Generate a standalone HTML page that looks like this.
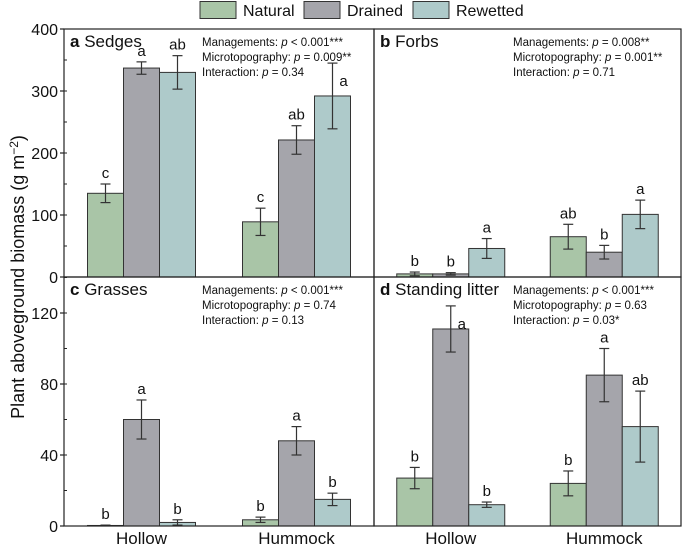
<!DOCTYPE html>
<html><head><meta charset="utf-8"><style>
html,body{margin:0;padding:0;background:#fff;}
svg{display:block;font-family:"Liberation Sans",Arial,sans-serif;}
</style></head><body>
<svg id="chart" width="685" height="547" viewBox="0 0 685 547"></svg>
<script>
const groups = ["Hollow","Hummock"];
const treatments = ["Natural","Drained","Rewetted"];
const colors = ["#a9c5a7","#a5a5ab","#aecaca"];
const panelIds = ["a","b","c","d"];
const panelNames = ["Sedges","Forbs","Grasses","Standing litter"];
const sedgesMean = [[135,337,330],[89,221,292]];
const sedgesErr = [[15,10,27],[22,23,53]];
const sedgesLetters = [["c","a","ab"],["c","ab","a"]];
const forbsMean = [[5,5,46],[65,40,101]];
const forbsErr = [[3,2,16],[20,11,23]];
const forbsLetters = [["b","b","a"],["ab","b","a"]];
const grassesMean = [[0.3,60,2],[3.5,48,15]];
const grassesErr = [[0.2,11,1.5],[1.5,8,3.5]];
const grassesLetters = [["b","a","b"],["b","a","b"]];
const litterMean = [[27,111,12],[24,85,56]];
const litterErr = [[6,13,1.5],[7,15,20]];
const litterLetters = [["b","a","b"],["b","a","ab"]];
const topTicks = [0,100,200,300,400];
const bottomTicks = [0,40,80,120];
const stats = [
 ["Managements: |p| < 0.001***","Microtopography: |p| = 0.009**","Interaction: |p| = 0.34"],
 ["Managements: |p| = 0.008**","Microtopography: |p| = 0.001**","Interaction: |p| = 0.71"],
 ["Managements: |p| < 0.001***","Microtopography: |p| = 0.74","Interaction: |p| = 0.13"],
 ["Managements: |p| < 0.001***","Microtopography: |p| = 0.63","Interaction: |p| = 0.03*"]
];
const means=[sedgesMean,forbsMean,grassesMean,litterMean];
const errs=[sedgesErr,forbsErr,grassesErr,litterErr];
const letters=[sedgesLetters,forbsLetters,grassesLetters,litterLetters];
// letters placed beside error cap instead of above (panel,group,treatment)
const sideLetters = ["0-1-2","3-0-1"];

const NS="http://www.w3.org/2000/svg";
const svg=document.getElementById('chart');
function mk(tag,attrs,parent){const e=document.createElementNS(NS,tag);for(const k in attrs)e.setAttribute(k,attrs[k]);(parent||svg).appendChild(e);return e;}

const L=64,M=374,R=681,T=29,MID=277,B=526;
const panels=[
 {x0:L,x1:M,y0:T,y1:MID,max:400},
 {x0:M,x1:R,y0:T,y1:MID,max:400},
 {x0:L,x1:M,y0:MID,y1:B,max:(B-MID)/(71/40)},
 {x0:M,x1:R,y0:MID,y1:B,max:(B-MID)/(71/40)}
];
const barW=36;

treatments.forEach((t,i)=>{
 const lx=[200,304,413][i];
 const g=mk('g',{});
 
 
 mk('rect',{x:lx,y:1.5,width:36,height:17,fill:colors[i],stroke:'#333','stroke-width':1},g);
 const tx=mk('text',{x:lx+43,y:16,'font-size':16,fill:'#111'},g);tx.textContent=t;
});

panels.forEach((p,pi)=>{
 const g=mk('g',{});
 
 
 const ys=v=>p.y1-v/p.max*(p.y1-p.y0);
 const w=p.x1-p.x0;
 const cx=gi=>p.x0+w*(gi===0?0.25:0.75);
 groups.forEach((gn,gi)=>{
  treatments.forEach((t,ti)=>{
   const v=means[pi][gi][ti],e=errs[pi][gi][ti];
   const x=cx(gi)+(ti-1)*barW-barW/2;
   const r=mk('rect',{x:x,y:ys(v),width:barW,height:p.y1-ys(v),fill:colors[ti],stroke:'#333','stroke-width':1},g);
   
   
   const c=x+barW/2;
   const eg=mk('g',{stroke:'#333','stroke-width':1.2},g);
   
   
   mk('line',{x1:c,x2:c,y1:ys(v+e),y2:ys(Math.max(v-e,0))},eg);
   mk('line',{x1:c-5,x2:c+5,y1:ys(v+e),y2:ys(v+e)},eg);
   mk('line',{x1:c-5,x2:c+5,y1:ys(Math.max(v-e,0)),y2:ys(Math.max(v-e,0))},eg);
   const side=sideLetters.indexOf(pi+'-'+gi+'-'+ti)>=0;
   const lt=mk('text',{x:side?c+11:c,y:side?ys(v+e)+23:ys(v+e)-6,'font-size':15,'text-anchor':'middle',fill:'#111'},g);
   lt.textContent=letters[pi][gi][ti];
   
   
  });
 });
 mk('rect',{x:p.x0,y:p.y0,width:w,height:p.y1-p.y0,fill:'none',stroke:'#222','stroke-width':1.2},g);
 const tt=mk('text',{x:p.x0+6,y:p.y0+18,'font-size':17,fill:'#111'},g);
 tt.innerHTML='<tspan font-weight="bold">'+panelIds[pi]+'</tspan> '+panelNames[pi];
 
 
 const sx=pi%2===0?202:513;
 stats[pi].forEach((s,si)=>{
  const parts=s.split('|');
  const st=mk('text',{x:sx,y:p.y0+17+si*15,'font-size':11.5,fill:'#111'},g);
  st.innerHTML=parts[0]+'<tspan font-style="italic">'+parts[1]+'</tspan>'+parts[2];
  
  
 });
 if(pi%2===0){
  const ticks=pi===0?topTicks:bottomTicks;
  const step=pi===0?50:20;
  for(let v=0;v<=p.max+0.01;v+=step){
   const y=ys(v);
   mk('line',{x1:p.x0,x2:p.x0+3,y1:y,y2:y,stroke:'#222','stroke-width':1},g);
  }
  ticks.forEach(v=>{
   const y=ys(v);
   mk('line',{x1:p.x0-4,x2:p.x0,y1:y,y2:y,stroke:'#222','stroke-width':1.2},g);
   const tl=mk('text',{x:p.x0-6,y:y+6,'font-size':16,'text-anchor':'end',fill:'#111'},g);
   tl.textContent=v;
   
   
  });
 }
 if(pi>=2){
  groups.forEach((gn,gi)=>{
   const xl=mk('text',{x:cx(gi),y:544,'font-size':17,'text-anchor':'middle',fill:'#111'},g);
   xl.textContent=gn;
   
   
  });
 }
});
const yt=mk('text',{x:0,y:0,'font-size':18,'text-anchor':'middle',fill:'#111',transform:'translate(24,277) rotate(-90)'});
yt.innerHTML='Plant aboveground biomass (g m<tspan dy="-6" font-size="12">−2</tspan><tspan dy="6">)</tspan>';


</script>
</body></html>
